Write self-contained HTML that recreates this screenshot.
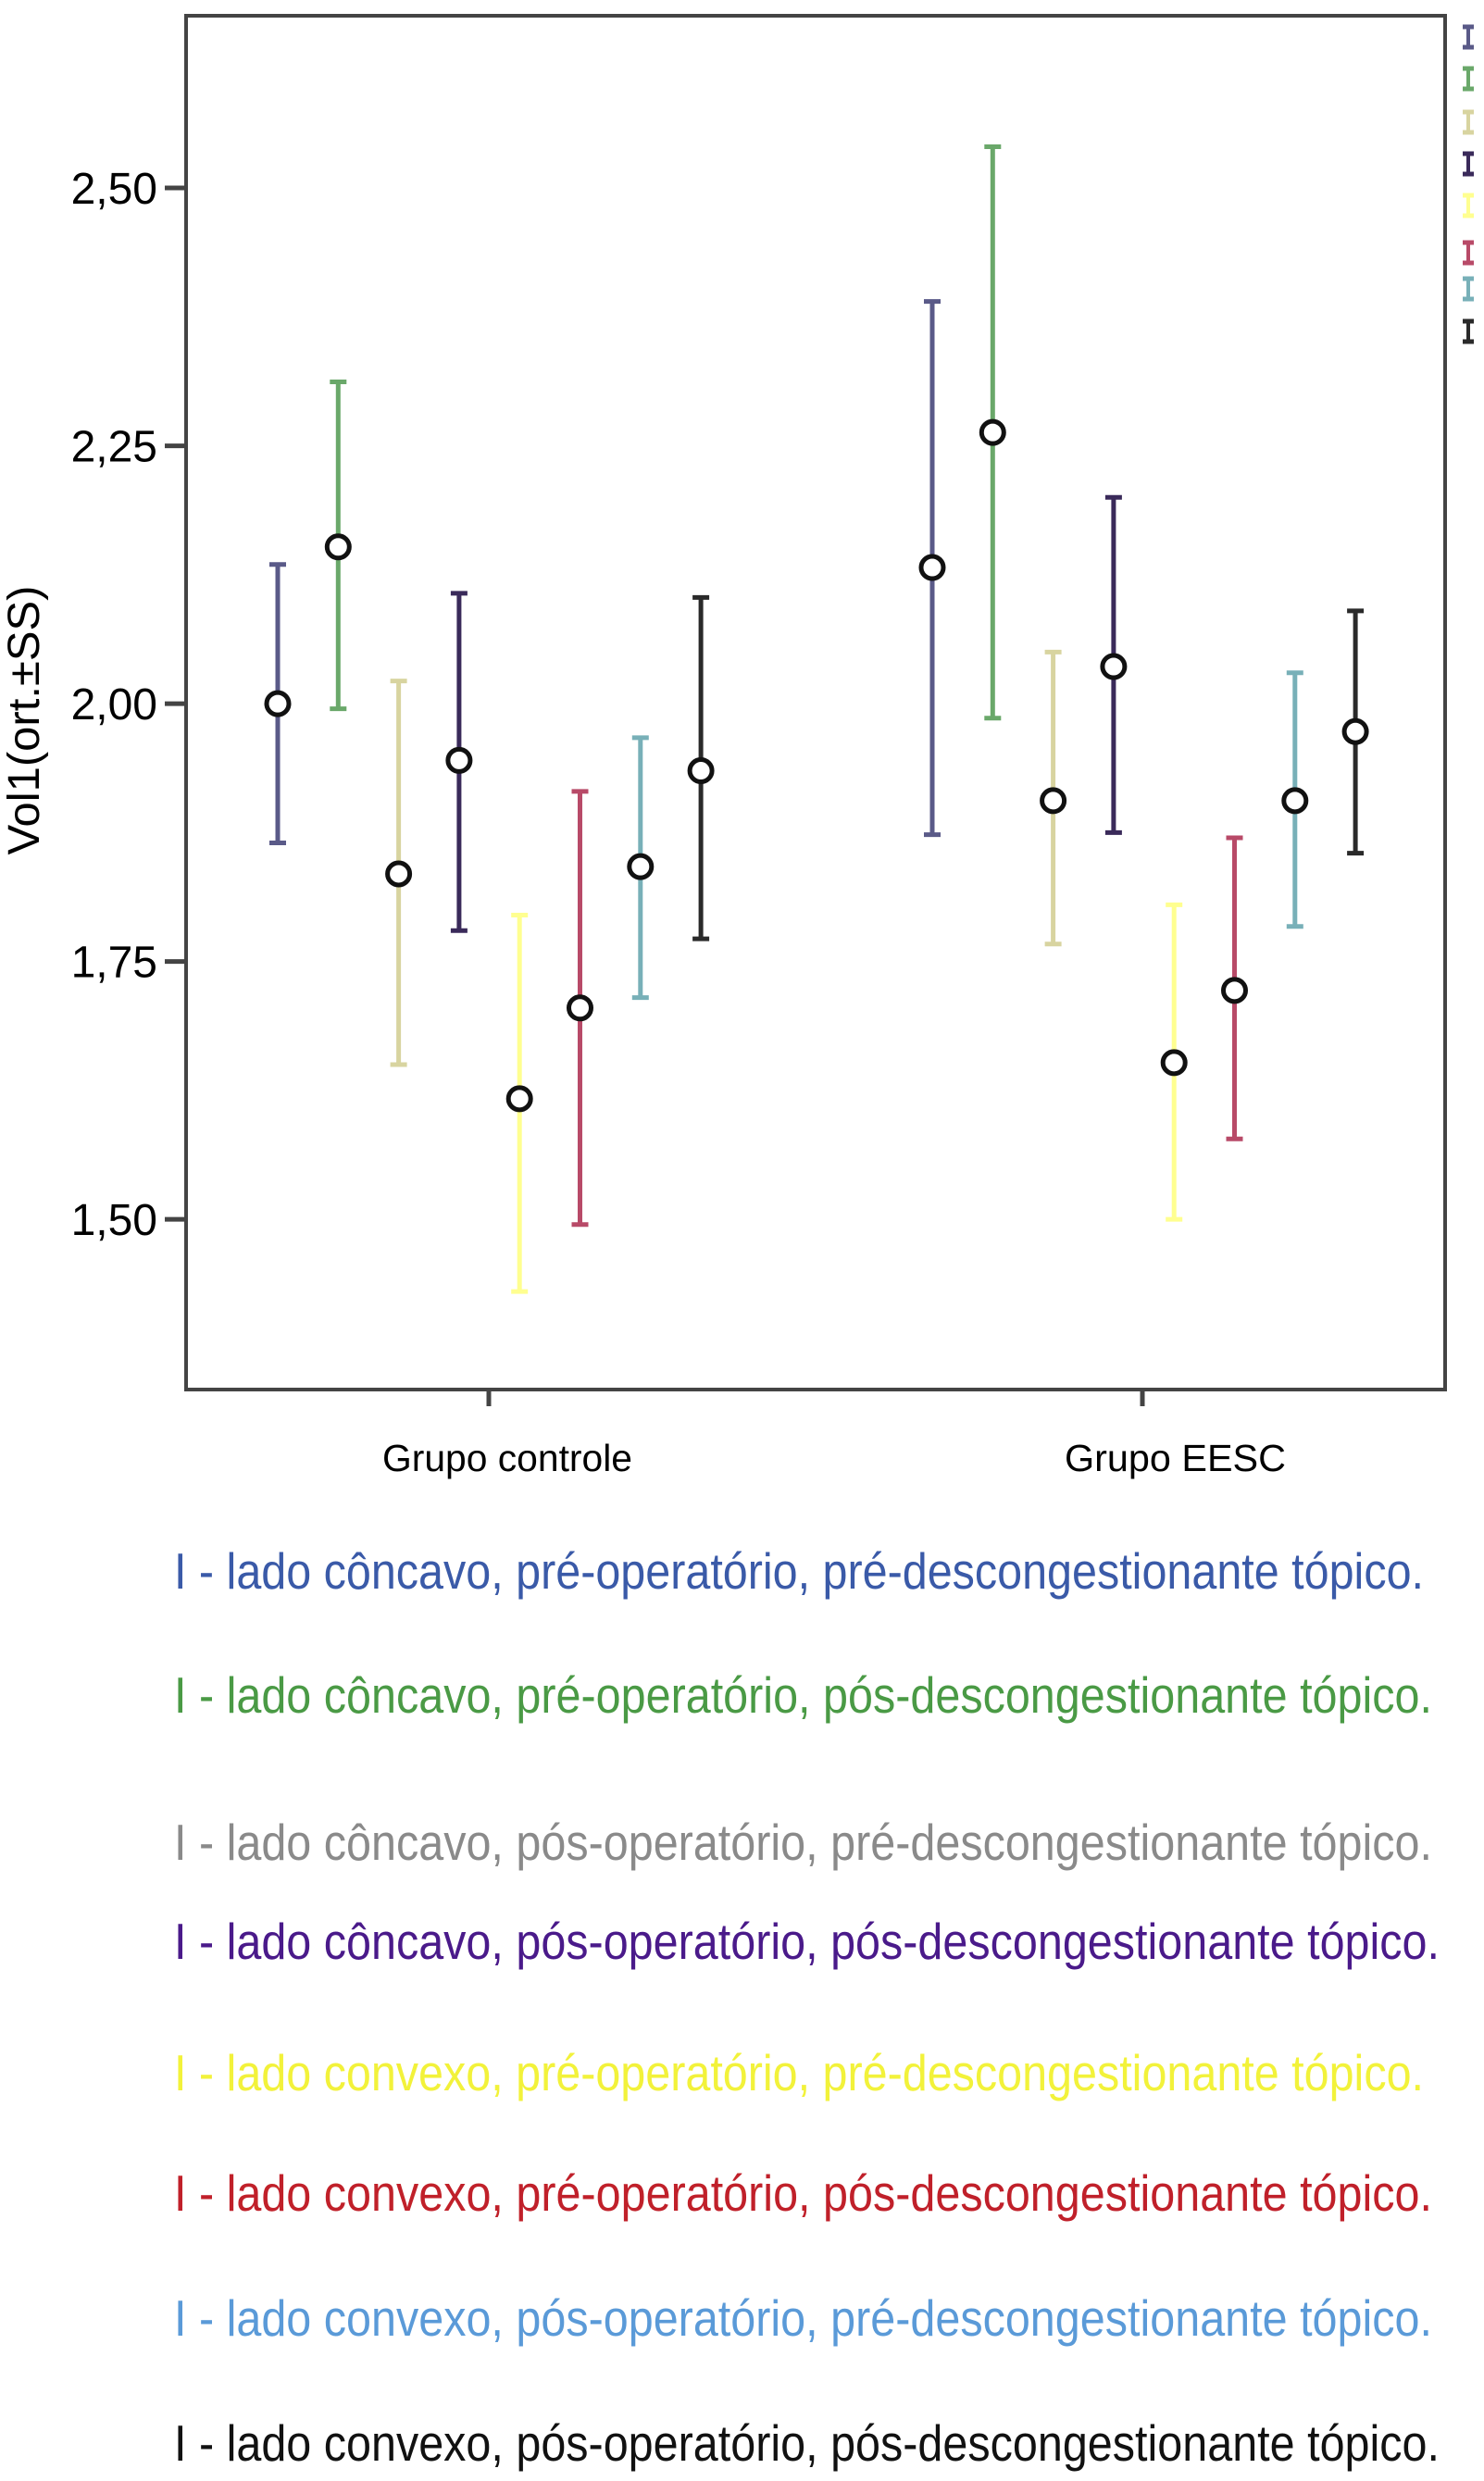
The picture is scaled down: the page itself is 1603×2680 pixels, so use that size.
<!DOCTYPE html>
<html><head><meta charset="utf-8"><style>
html,body{margin:0;padding:0;background:#fff;}
svg{display:block;font-family:"Liberation Sans",Arial,sans-serif;}
</style></head><body>
<svg id="chart" width="1603" height="2680" viewBox="0 0 1603 2680" xmlns="http://www.w3.org/2000/svg">
<rect x="0" y="0" width="1603" height="2680" fill="#fff"/>
<g id="plot"></g>
<text transform="translate(42,778) rotate(-90)" text-anchor="middle" font-size="48" textLength="291" lengthAdjust="spacingAndGlyphs" fill="#000">Vol1(ort.±SS)</text>
<text x="413" y="1589" font-size="41" textLength="270" lengthAdjust="spacingAndGlyphs" fill="#000">Grupo controle</text>
<text x="1150" y="1589" font-size="41" textLength="239" lengthAdjust="spacingAndGlyphs" fill="#000">Grupo EESC</text>
<g id="legend"></g>
</svg>
<script>
const categories = ["Grupo controle", "Grupo EESC"];
const seriesColors = ["#5a5a88","#6aa86a","#d8d4a0","#3a2a5a","#ffff90","#b84a68","#78b0b8","#2a2a2a"];
const meansControle = [2.00, 2.152, 1.835, 1.945, 1.617, 1.705, 1.842, 1.935];
const lowControle   = [1.865, 1.995, 1.650, 1.780, 1.430, 1.495, 1.715, 1.772];
const highControle  = [2.135, 2.312, 2.022, 2.107, 1.795, 1.915, 1.967, 2.103];
const meansEESC = [2.132, 2.263, 1.906, 2.036, 1.652, 1.722, 1.906, 1.973];
const lowEESC   = [1.873, 1.986, 1.767, 1.875, 1.500, 1.578, 1.784, 1.855];
const highEESC  = [2.390, 2.540, 2.050, 2.200, 1.805, 1.870, 2.030, 2.090];
const yTicks = [1.50, 1.75, 2.00, 2.25, 2.50];
const yTickLabels = ["1,50","1,75","2,00","2,25","2,50"];
const legendLabels = [
 "I - lado côncavo, pré-operatório, pré-descongestionante tópico.",
 "I - lado côncavo, pré-operatório, pós-descongestionante tópico.",
 "I - lado côncavo, pós-operatório, pré-descongestionante tópico.",
 "I - lado côncavo, pós-operatório, pós-descongestionante tópico.",
 "I - lado convexo, pré-operatório, pré-descongestionante tópico.",
 "I - lado convexo, pré-operatório, pós-descongestionante tópico.",
 "I - lado convexo, pós-operatório, pré-descongestionante tópico.",
 "I - lado convexo, pós-operatório, pós-descongestionante tópico."
];
const legendTextColors = ["#3a5aa8","#4a9a45","#8a8a8a","#4a1a8a","#f2f23a","#c0202a","#5a9ad8","#111111"];

const NS = "http://www.w3.org/2000/svg";
const L = 201, R = 1561, T = 17, B = 1501;
const yMin = 1.335, yMax = 2.667;
function y(v){ return B - (v - yMin) / (yMax - yMin) * (B - T); }
const groupStart = [300, 1007], step = 65.3;
function x(g, i){ return groupStart[g] + i * step; }
const catX = [528, 1234];
function mk(tag, attrs, parent){ const e = document.createElementNS(NS, tag); for (const k in attrs) e.setAttribute(k, attrs[k]); parent.appendChild(e); return e; }

const plot = document.getElementById('plot');
const frame = mk('rect', {x:L, y:T, width:R-L, height:B-T, fill:'none', stroke:'#444', 'stroke-width':4}, plot);



yTicks.forEach((t, i) => {
  const ln = mk('line', {x1:178, x2:L, y1:y(t), y2:y(t), stroke:'#444', 'stroke-width':5}, plot);
  
  
  const tx = mk('text', {x:170, y:y(t)+17, 'text-anchor':'end', 'font-size':48, fill:'#000'}, plot);
  tx.textContent = yTickLabels[i];
  
  
});
categories.forEach((c, g) => {
  const ln = mk('line', {x1:catX[g], x2:catX[g], y1:B, y2:B+18, stroke:'#444', 'stroke-width':5}, plot);
  
  
});

const groups = [[meansControle, lowControle, highControle],[meansEESC, lowEESC, highEESC]];
groups.forEach((gd, g) => {
  gd[0].forEach((m, i) => {
    const cx = x(g, i), col = seriesColors[i];
    const bar = mk('line', {x1:cx, x2:cx, y1:y(gd[1][i]), y2:y(gd[2][i]), stroke:col, 'stroke-width':5}, plot);
    
    
    [gd[1][i], gd[2][i]].forEach(v => {
      const cap = mk('line', {x1:cx-9, x2:cx+9, y1:y(v), y2:y(v), stroke:col, 'stroke-width':5}, plot);
      
      
    });
    const c = mk('circle', {cx:cx, cy:y(m), r:12, fill:'#fff', stroke:'#111', 'stroke-width':5}, plot);
    
    
  });
});

const legend = document.getElementById('legend');
const iconY = [40, 85, 132, 177, 222, 273, 312, 358];
seriesColors.forEach((col, i) => {
  const gI = mk('g', {}, legend);
  
  
  const yc = iconY[i];
  mk('line', {x1:1586, x2:1586, y1:yc-11, y2:yc+11, stroke:col, 'stroke-width':4}, gI);
  mk('line', {x1:1580, x2:1592, y1:yc-11, y2:yc-11, stroke:col, 'stroke-width':5}, gI);
  mk('line', {x1:1580, x2:1592, y1:yc+11, y2:yc+11, stroke:col, 'stroke-width':5}, gI);
});
const baselines = [1716, 1850, 2009, 2116, 2258, 2388, 2523, 2658];
const widths = [1350, 1359, 1359, 1367, 1350, 1359, 1359, 1367];
legendLabels.forEach((t, i) => {
  const tx = mk('text', {x:188, y:baselines[i], 'font-size':55, fill:legendTextColors[i], textLength:widths[i], lengthAdjust:'spacingAndGlyphs'}, legend);
  tx.textContent = t;
  
  
});
</script>
</body></html>
